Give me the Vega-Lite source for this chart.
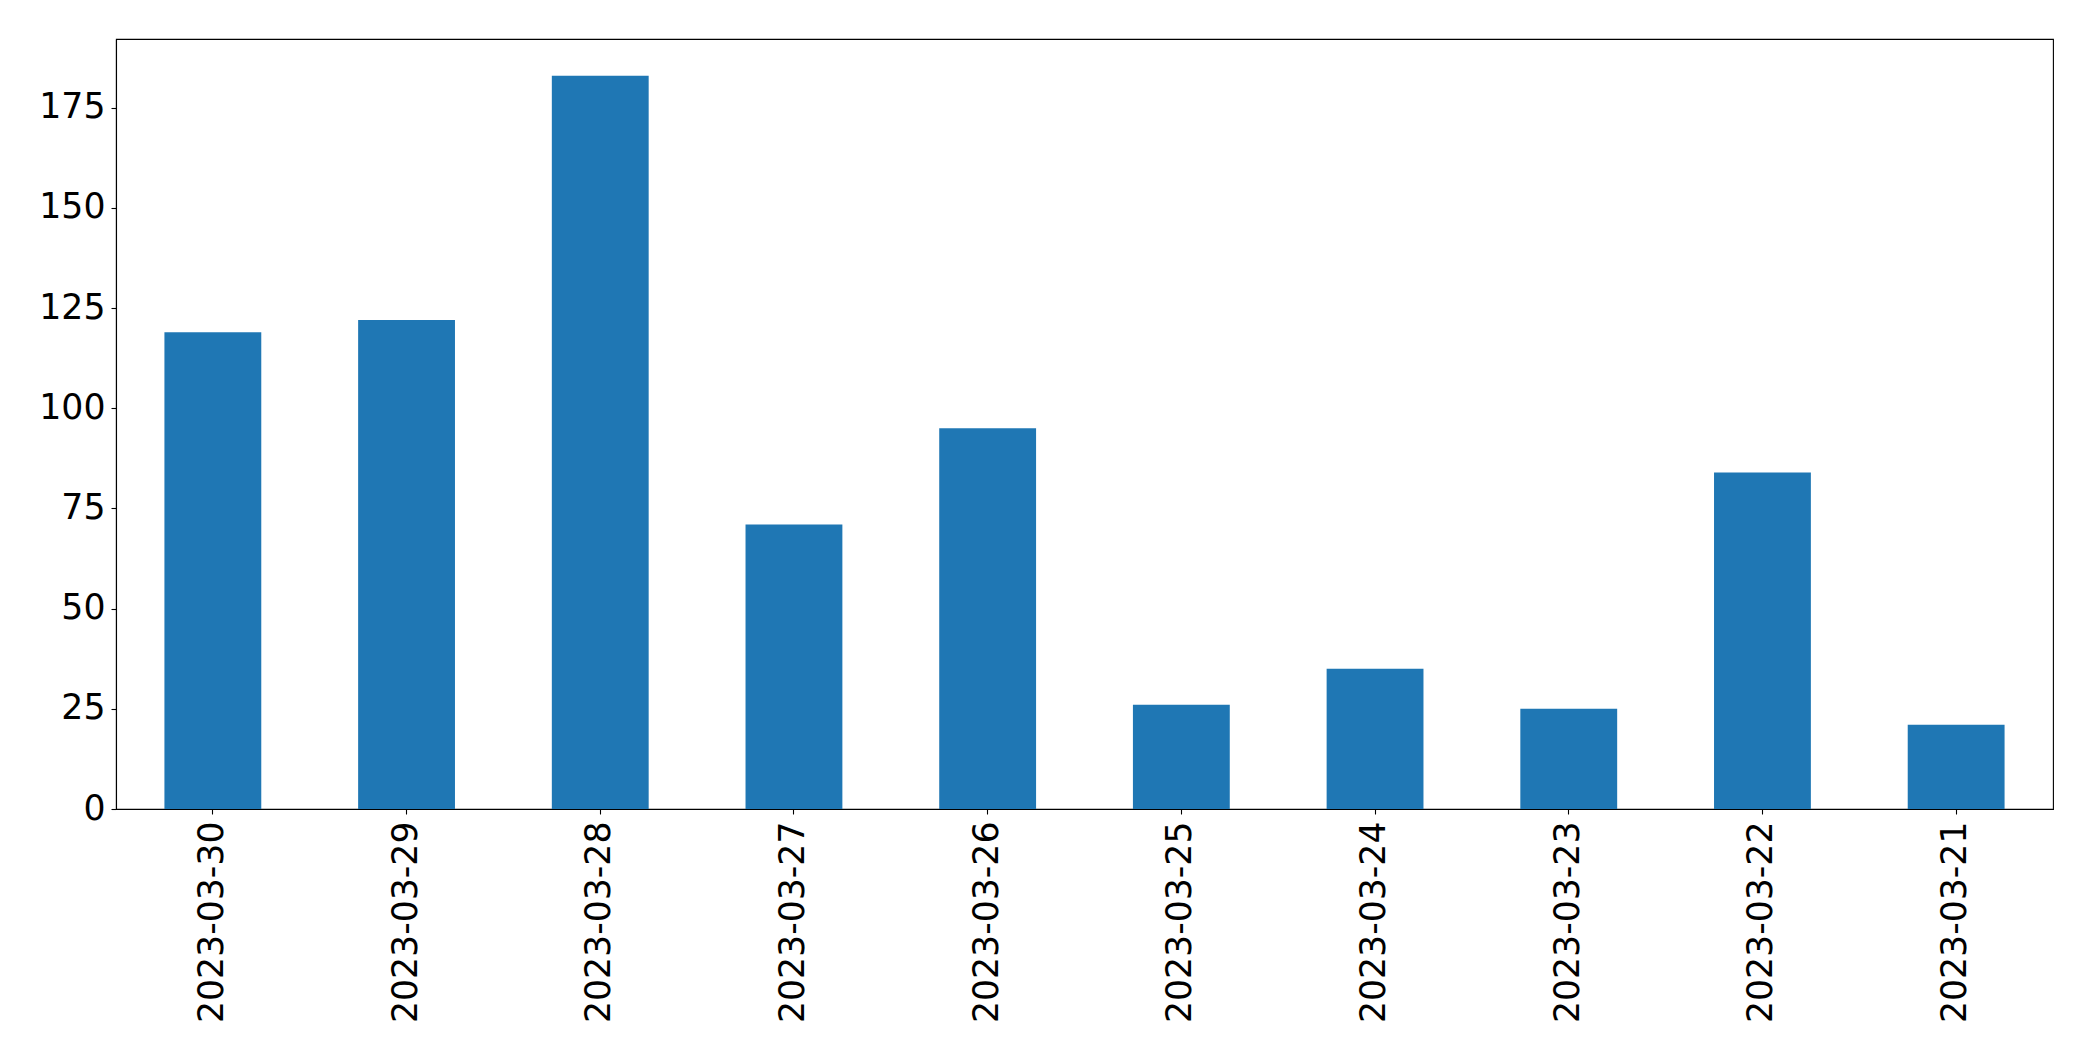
{
  "$schema": "https://vega.github.io/schema/vega-lite/v6.json",
  "autosize": "none",
  "width": 1937,
  "height": 770,
  "padding": {"left": 116, "top": 39, "right": 40, "bottom": 252},
  "background": "white",
  "config": {
    "view": {"stroke": "black", "strokeWidth": 1.1},
    "font": "DejaVu Sans"
  },
  "data": {
    "values": [
      {"date": "2023-03-30", "count": 119},
      {"date": "2023-03-29", "count": 122},
      {"date": "2023-03-28", "count": 183},
      {"date": "2023-03-27", "count": 71},
      {"date": "2023-03-26", "count": 95},
      {"date": "2023-03-25", "count": 26},
      {"date": "2023-03-24", "count": 35},
      {"date": "2023-03-23", "count": 25},
      {"date": "2023-03-22", "count": 84},
      {"date": "2023-03-21", "count": 21}
    ]
  },
  "mark": {"type": "bar", "color": "#1f77b4"},
  "encoding": {
    "x": {
      "field": "date",
      "type": "nominal",
      "sort": null,
      "scale": {"paddingInner": 0.5, "paddingOuter": 0.25},
      "axis": {
        "title": null,
        "labelAngle": 270,
        "labelAlign": "right",
        "labelBaseline": "middle",
        "labelFontSize": 34.7,
        "labelLimit": 0,
        "labelColor": "black",
        "labelFont": "DejaVu Sans",
        "labelPadding": 7,
        "tickSize": 5,
        "tickWidth": 1.1,
        "tickColor": "black",
        "domainColor": "black",
        "domainWidth": 1.1,
        "grid": false
      }
    },
    "y": {
      "field": "count",
      "type": "quantitative",
      "scale": {"domain": [0, 192.15], "nice": false, "zero": true},
      "axis": {
        "title": null,
        "values": [0, 25, 50, 75, 100, 125, 150, 175],
        "labelFontSize": 34.7,
        "labelColor": "black",
        "labelFont": "DejaVu Sans",
        "labelPadding": 6,
        "tickSize": 5,
        "tickWidth": 1.1,
        "tickColor": "black",
        "domainColor": "black",
        "domainWidth": 1.1,
        "grid": false
      }
    }
  }
}
